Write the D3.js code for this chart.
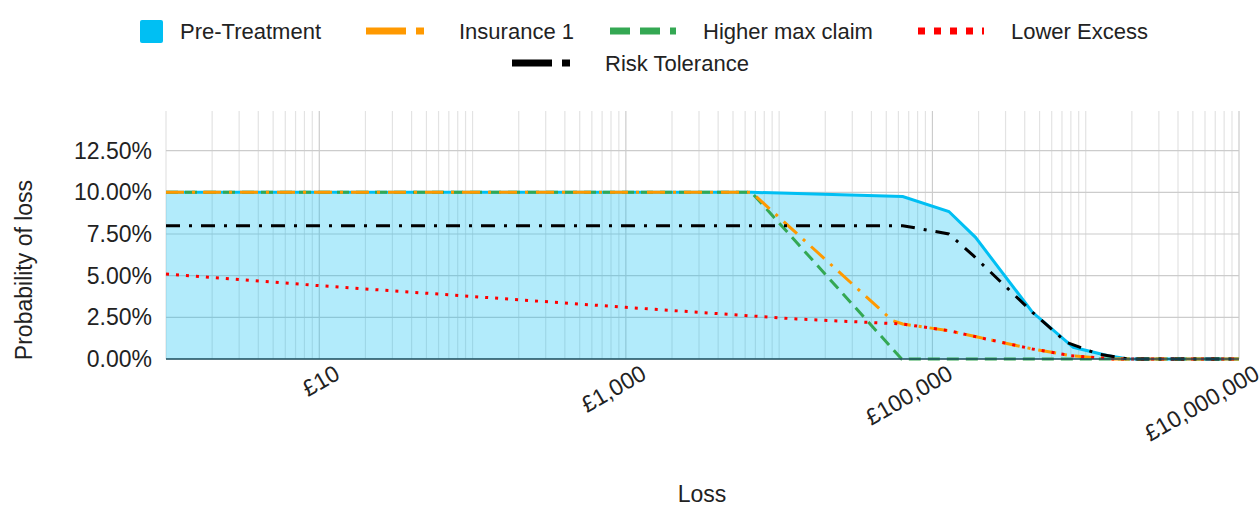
<!DOCTYPE html>
<html>
<head>
<meta charset="utf-8">
<script src="https://cdn.jsdelivr.net/npm/d3@7"></script>
<style>
body { margin: 0; background: #fff; font-family: "Liberation Sans", Arial, sans-serif; }
</style>
</head>
<body>
<svg width="1259" height="515"></svg>
<script>
var seriesNames = ['Pre-Treatment', 'Insurance 1', 'Higher max claim', 'Lower Excess', 'Risk Tolerance'];
var preLoss = [1, 6600, 64000, 128000, 191000, 450000, 830000, 1400000, 1900000, 10000000];
var preProb = [0.10, 0.10, 0.0975, 0.0885, 0.073, 0.028, 0.007, 0.002, 0, 0];
var insLoss = [1, 6600, 55000, 64000, 128000, 200000, 450000, 800000, 1500000, 10000000];
var insProb = [0.10, 0.10, 0.023, 0.021, 0.017, 0.013, 0.006, 0.002, 0, 0];
var higherLoss = [1, 6600, 63000, 10000000];
var higherProb = [0.10, 0.10, 0, 0];
var lowerLoss = [1, 10, 1000, 13000, 64000, 128000, 200000, 450000, 800000, 1500000, 10000000];
var lowerProb = [0.051, 0.044, 0.031, 0.024, 0.021, 0.017, 0.013, 0.006, 0.002, 0, 0];
var riskLoss = [1, 64000, 128000, 185000, 450000, 750000, 1200000, 1900000, 10000000];
var riskProb = [0.08, 0.08, 0.075, 0.062, 0.028, 0.01, 0.003, 0, 0];
var yTicks = [0, 0.025, 0.05, 0.075, 0.1, 0.125];
var xLabelTicks = [10, 1000, 100000, 10000000];

var svg = d3.select('svg');
var x = d3.scaleLog().domain([1, 1e7]).range([166, 1239]);
var y = d3.scaleLinear().domain([0, 0.15]).range([359, 109]);
var fs = 23;

// grid
var minor = [];
for (var e = 0; e < 7; e++) for (var m = 1; m < 10; m++) minor.push(m * Math.pow(10, e));
minor.push(1e7);
svg.append('g').selectAll('line').data(minor).enter().append('line')
    .attr('x1', function (d) { return x(d); }).attr('x2', function (d) { return x(d); })
    .attr('y1', 111).attr('y2', 359)
    .attr('stroke', function (d) { return xLabelTicks.indexOf(d) >= 0 ? '#cccccc' : '#e3e3e3'; })
    .attr('stroke-width', 1.2);
svg.append('g').selectAll('line').data(yTicks).enter().append('line')
    .attr('x1', 166).attr('x2', 1239)
    .attr('y1', function (d) { return y(d); }).attr('y2', function (d) { return y(d); })
    .attr('stroke', '#cccccc').attr('stroke-width', 1.2);

var pts = function (xs, ys) { return xs.map(function (v, i) { return [v, ys[i]]; }); };

// pre-treatment area
svg.append('path').datum(pts(preLoss, preProb))
    .attr('d', d3.area().x(function (d) { return x(d[0]); }).y0(y(0)).y1(function (d) { return y(d[1]); }))
    .attr('fill', '#00bcf2').attr('fill-opacity', 0.3);
svg.append('path').datum(pts(preLoss, preProb))
    .attr('d', d3.line().x(function (d) { return x(d[0]); }).y(function (d) { return y(d[1]); }))
    .attr('fill', 'none').attr('stroke', '#00bff3').attr('stroke-width', 3);

var line = d3.line()
    .x(function (d) { return x(d[0]); }).y(function (d) { return y(d[1]); });
var lineDefs = [
    { data: pts(higherLoss, higherProb), color: '#34a853', dash: '12,7' },
    { data: pts(insLoss, insProb), color: '#ff9900', dash: '18,8,3,8' },
    { data: pts(lowerLoss, lowerProb), color: '#ff0000', dash: '3,7' },
    { data: pts(riskLoss, riskProb), color: '#000000', dash: '14,9,3,9' }
];
lineDefs.forEach(function (s) {
    svg.append('path').datum(s.data).attr('d', line)
        .attr('fill', 'none').attr('stroke', s.color).attr('stroke-width', 3)
        .attr('stroke-dasharray', s.dash);
});

// baseline
svg.append('line').attr('x1', 166).attr('x2', 1239).attr('y1', 359).attr('y2', 359)
    .attr('stroke', '#1f5160').attr('stroke-width', 1.5);

// y axis labels
svg.append('g').selectAll('text').data(yTicks).enter().append('text')
    .attr('x', 152).attr('y', function (d) { return y(d) + 8; })
    .attr('text-anchor', 'end').attr('font-size', fs).attr('fill', '#222')
    .text(function (d) { return (d * 100).toFixed(2) + '%'; });

// x axis labels
svg.append('g').selectAll('text').data(xLabelTicks).enter().append('text')
    .attr('transform', function (d) { return 'translate(' + (x(d) + 22) + ',378) rotate(-30)'; })
    .attr('text-anchor', 'end').attr('font-size', fs).attr('fill', '#222')
    .text(function (d) { return '£' + d3.format(',')(d); });

svg.append('text').attr('x', 702).attr('y', 502).attr('text-anchor', 'middle')
    .attr('font-size', fs).attr('fill', '#222').text('Loss');
svg.append('text').attr('transform', 'translate(32,270) rotate(-90)').attr('text-anchor', 'middle')
    .attr('font-size', fs).attr('fill', '#222').text('Probability of loss');

// legend
var legendItems = [
    { x: 140, y: 31, name: seriesNames[0], color: '#00bff3', dash: null },
    { x: 366, y: 31, name: seriesNames[1], color: '#ff9900', dash: '40,10,8,10' },
    { x: 610, y: 31, name: seriesNames[2], color: '#34a853', dash: '20,10' },
    { x: 918, y: 31, name: seriesNames[3], color: '#ff0000', dash: '7,9' },
    { x: 512, y: 63, name: seriesNames[4], color: '#000000', dash: '40,10,8,10' }
];
legendItems.forEach(function (l) {
    if (l.dash === null) {
        svg.append('rect').attr('x', l.x).attr('y', l.y - 11).attr('width', 23).attr('height', 23)
            .attr('rx', 2).attr('fill', l.color);
    } else {
        svg.append('line').attr('x1', l.x).attr('x2', l.x + 66).attr('y1', l.y).attr('y2', l.y)
            .attr('stroke', l.color).attr('stroke-width', 7).attr('stroke-dasharray', l.dash);
    }
    svg.append('text').attr('x', l.x + (l.dash === null ? 40 : 93)).attr('y', l.y + 8)
        .attr('font-size', fs - 1).attr('fill', '#222').text(l.name);
});
</script>
</body>
</html>
